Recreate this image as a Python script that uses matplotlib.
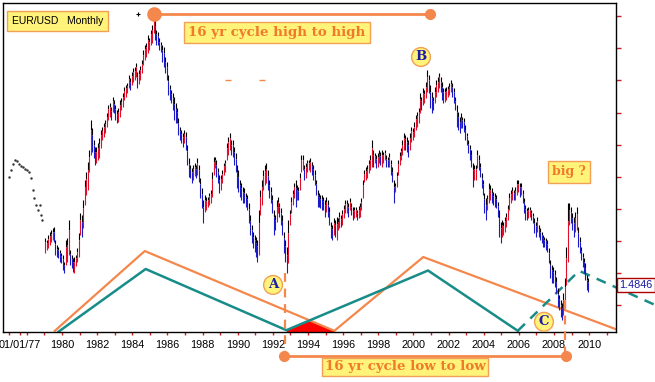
import numpy as np
import matplotlib
matplotlib.use("Agg")
import matplotlib.pyplot as plt

# ---------------- data ----------------
start_year = 1979  # first monthly bar: Jan 1979

bar_low = [
    1.328, 1.335, 1.318, 1.308, 1.302, 1.295, 1.292, 1.335, 1.352, 1.358, 1.368, 1.378,  # 1979
    1.385, 1.408, 1.335, 1.328, 1.268, 1.368, 1.385, 1.395, 1.392, 1.385, 1.362, 1.312,  # 1980
    1.245, 1.252, 1.202, 1.135, 1.108, 1.075, 1.035, 0.935, 0.962, 1.002, 1.025, 1.025,  # 1981
    1.012, 0.995, 0.968, 0.958, 0.945, 0.935, 0.912, 0.885, 0.878, 0.892, 0.858, 0.868,  # 1982
    0.885, 0.902, 0.895, 0.868, 0.862, 0.845, 0.825, 0.818, 0.812, 0.785, 0.795, 0.775,  # 1983
    0.762, 0.758, 0.745, 0.775, 0.768, 0.755, 0.735, 0.702, 0.685, 0.678, 0.652, 0.662,  # 1984
    0.635, 0.618, 0.582, 0.602, 0.635, 0.642, 0.662, 0.675, 0.685, 0.692, 0.725, 0.742,  # 1985
    0.785, 0.818, 0.835, 0.845, 0.858, 0.878, 0.895, 0.928, 0.958, 0.968, 0.978, 0.968,  # 1986
    0.975, 1.018, 1.062, 1.085, 1.095, 1.085, 1.078, 1.085, 1.062, 1.085, 1.128, 1.162,  # 1987
    1.202, 1.185, 1.192, 1.192, 1.178, 1.168, 1.108, 1.058, 1.058, 1.068, 1.095, 1.118,  # 1988
    1.118, 1.102, 1.078, 1.068, 1.012, 0.992, 0.978, 1.002, 1.002, 1.025, 1.045, 1.085,  # 1989
    1.102, 1.135, 1.145, 1.158, 1.162, 1.178, 1.185, 1.212, 1.252, 1.285, 1.308, 1.318,  # 1990
    1.325, 1.335, 1.235, 1.168, 1.135, 1.102, 1.085, 1.078, 1.102, 1.135, 1.158, 1.185,  # 1991
    1.235, 1.252, 1.202, 1.192, 1.212, 1.228, 1.252, 1.308, 1.335, 1.358, 1.268, 1.235,  # 1992
    1.192, 1.168, 1.145, 1.135, 1.152, 1.158, 1.112, 1.052, 1.052, 1.085, 1.078, 1.068,  # 1993
    1.068, 1.062, 1.075, 1.085, 1.102, 1.135, 1.168, 1.178, 1.185, 1.185, 1.192, 1.202,  # 1994
    1.192, 1.202, 1.225, 1.275, 1.285, 1.262, 1.268, 1.258, 1.262, 1.242, 1.252, 1.235,  # 1995
    1.218, 1.202, 1.202, 1.212, 1.195, 1.212, 1.225, 1.225, 1.225, 1.235, 1.222, 1.212,  # 1996
    1.195, 1.135, 1.102, 1.092, 1.085, 1.068, 1.052, 1.002, 1.035, 1.045, 1.052, 1.045,  # 1997
    1.035, 1.042, 1.035, 1.042, 1.035, 1.052, 1.058, 1.045, 1.068, 1.092, 1.135, 1.145,  # 1998
    1.108, 1.068, 1.042, 1.028, 1.002, 0.978, 0.985, 0.992, 1.002, 0.978, 0.958, 0.962,  # 1999
    0.942, 0.918, 0.908, 0.895, 0.845, 0.858, 0.828, 0.835, 0.808, 0.768, 0.785, 0.818,  # 2000
    0.842, 0.858, 0.825, 0.802, 0.792, 0.778, 0.792, 0.808, 0.828, 0.828, 0.825, 0.822,  # 2001
    0.812, 0.802, 0.812, 0.828, 0.858, 0.885, 0.908, 0.925, 0.912, 0.925, 0.928, 0.952,  # 2002
    0.978, 1.002, 1.018, 1.035, 1.078, 1.085, 1.085, 1.035, 1.052, 1.078, 1.112, 1.135,  # 2003
    1.178, 1.195, 1.185, 1.145, 1.152, 1.162, 1.175, 1.178, 1.185, 1.208, 1.235, 1.275,  # 2004
    1.268, 1.275, 1.258, 1.245, 1.218, 1.178, 1.168, 1.158, 1.168, 1.158, 1.135, 1.135,  # 2005
    1.145, 1.145, 1.168, 1.195, 1.218, 1.228, 1.225, 1.225, 1.235, 1.245, 1.262, 1.275,  # 2006
    1.258, 1.285, 1.295, 1.308, 1.318, 1.325, 1.328, 1.335, 1.362, 1.402, 1.418, 1.425,  # 2007
    1.435, 1.458, 1.495, 1.518, 1.535, 1.545, 1.512, 1.462, 1.358, 1.212, 1.212, 1.225,  # 2008
    1.245, 1.258, 1.242, 1.225, 1.292, 1.325, 1.358, 1.378, 1.395, 1.412, 1.452, 1.462,  # 2009
]

bar_high = [
    1.378, 1.368, 1.362, 1.352, 1.342, 1.335, 1.342, 1.385, 1.392, 1.395, 1.408, 1.412,  # 1979
    1.435, 1.445, 1.418, 1.408, 1.385, 1.418, 1.428, 1.442, 1.445, 1.422, 1.408, 1.392,  # 1980
    1.318, 1.325, 1.295, 1.218, 1.185, 1.168, 1.108, 1.052, 1.042, 1.062, 1.085, 1.078,  # 1981
    1.068, 1.062, 1.028, 1.002, 0.992, 0.978, 0.958, 0.935, 0.925, 0.935, 0.908, 0.912,  # 1982
    0.935, 0.945, 0.942, 0.925, 0.902, 0.892, 0.868, 0.858, 0.845, 0.828, 0.835, 0.818,  # 1983
    0.808, 0.802, 0.792, 0.828, 0.815, 0.802, 0.778, 0.752, 0.735, 0.725, 0.712, 0.702,  # 1984
    0.685, 0.678, 0.645, 0.668, 0.685, 0.685, 0.702, 0.708, 0.742, 0.758, 0.778, 0.802,  # 1985
    0.852, 0.868, 0.878, 0.902, 0.935, 0.945, 0.945, 0.985, 1.002, 1.012, 1.025, 1.012,  # 1986
    1.035, 1.085, 1.125, 1.128, 1.145, 1.135, 1.122, 1.128, 1.118, 1.142, 1.195, 1.228,  # 1987
    1.278, 1.242, 1.235, 1.225, 1.218, 1.212, 1.192, 1.118, 1.095, 1.125, 1.145, 1.178,  # 1988
    1.168, 1.145, 1.118, 1.108, 1.068, 1.052, 1.035, 1.052, 1.058, 1.085, 1.108, 1.162,  # 1989
    1.175, 1.192, 1.202, 1.212, 1.212, 1.225, 1.235, 1.278, 1.318, 1.345, 1.362, 1.375,  # 1990
    1.392, 1.408, 1.385, 1.252, 1.218, 1.168, 1.152, 1.145, 1.168, 1.195, 1.212, 1.245,  # 1991
    1.318, 1.302, 1.275, 1.245, 1.258, 1.285, 1.318, 1.378, 1.408, 1.445, 1.412, 1.285,  # 1992
    1.245, 1.218, 1.195, 1.225, 1.202, 1.202, 1.168, 1.108, 1.102, 1.135, 1.128, 1.108,  # 1993
    1.102, 1.108, 1.118, 1.135, 1.152, 1.185, 1.225, 1.225, 1.228, 1.235, 1.235, 1.258,  # 1994
    1.242, 1.258, 1.285, 1.328, 1.335, 1.318, 1.325, 1.335, 1.302, 1.295, 1.292, 1.285,  # 1995
    1.262, 1.245, 1.245, 1.258, 1.235, 1.252, 1.268, 1.262, 1.258, 1.268, 1.262, 1.258,  # 1996
    1.235, 1.195, 1.142, 1.135, 1.128, 1.112, 1.102, 1.092, 1.092, 1.078, 1.095, 1.092,  # 1997
    1.078, 1.085, 1.092, 1.078, 1.068, 1.092, 1.092, 1.092, 1.118, 1.142, 1.212, 1.175,  # 1998
    1.158, 1.118, 1.085, 1.068, 1.052, 1.035, 1.035, 1.042, 1.058, 1.035, 1.008, 1.002,  # 1999
    0.992, 0.968, 0.958, 0.945, 0.912, 0.902, 0.885, 0.878, 0.862, 0.842, 0.845, 0.895,  # 2000
    0.912, 0.902, 0.878, 0.858, 0.842, 0.828, 0.842, 0.868, 0.878, 0.875, 0.868, 0.858,  # 2001
    0.852, 0.842, 0.858, 0.878, 0.902, 0.958, 0.968, 0.978, 0.962, 0.962, 0.975, 1.002,  # 2002
    1.018, 1.045, 1.068, 1.092, 1.158, 1.135, 1.135, 1.095, 1.102, 1.125, 1.162, 1.185,  # 2003
    1.245, 1.268, 1.235, 1.212, 1.202, 1.212, 1.218, 1.225, 1.228, 1.258, 1.325, 1.345,  # 2004
    1.325, 1.318, 1.308, 1.292, 1.268, 1.235, 1.212, 1.202, 1.202, 1.202, 1.185, 1.175,  # 2005
    1.192, 1.185, 1.212, 1.245, 1.268, 1.268, 1.262, 1.258, 1.268, 1.278, 1.312, 1.325,  # 2006
    1.308, 1.325, 1.335, 1.345, 1.358, 1.358, 1.368, 1.375, 1.412, 1.462, 1.478, 1.478,  # 2007
    1.492, 1.512, 1.558, 1.568, 1.592, 1.602, 1.585, 1.562, 1.485, 1.408, 1.285, 1.278,  # 2008
    1.302, 1.325, 1.308, 1.302, 1.358, 1.378, 1.402, 1.425, 1.445, 1.468, 1.502, 1.508,  # 2009
]

# sparse early quotes (1977-1978), drawn as dots
pre_years = [1976.98, 1977.10, 1977.21, 1977.33, 1977.44, 1977.55, 1977.67, 1977.78,
             1977.89, 1978.01, 1978.12, 1978.24, 1978.35, 1978.41, 1978.52, 1978.63,
             1978.75, 1978.80, 1978.86]
pre_vals = [1.125, 1.102, 1.082, 1.068, 1.072, 1.082, 1.088, 1.092,
            1.098, 1.102, 1.108, 1.128, 1.168, 1.195, 1.218, 1.235,
            1.218, 1.252, 1.268]

# cycle lines
orange_years = [1979.59, 1984.71, 1995.50, 2000.56, 2011.63]
orange_vals = [1.638, 1.372, 1.638, 1.392, 1.635]
teal_years = [1979.80, 1984.76, 1992.77, 2000.83, 2005.94]
teal_vals = [1.641, 1.432, 1.636, 1.437, 1.638]
teal_dash_years = [2005.94, 2009.43, 2013.76]
teal_dash_vals = [1.638, 1.438, 1.552]

high_cycle_years = [1985.24, 2000.94]
high_cycle_level = 0.582
low_cycle_years = [1992.63, 2008.68]
low_cycle_level = 1.722
low_A_year, low_A_val = 1992.69, 1.445
low_C_year, low_C_val = 2008.63, 1.535

last_price = 1.4846
right_ticks = [0.588, 0.695, 0.802, 0.912, 1.018, 1.125, 1.232, 1.338, 1.445, 1.552]
year_labels = ["01/01/77"] + [str(y) for y in range(1980, 2011, 2)]
year_label_pos = [1977.62] + list(range(1980, 2011, 2))

# ---------------- style ----------------
ORANGE = "#F4874B"
TEAL = "#178C88"
YELLOW = "#FFF37A"
BOXEDGE = "#F2A055"
LETTER = "#1C1CA8"

fig = plt.figure(figsize=(6.55, 3.82), dpi=100)
ax = fig.add_axes([3 / 655, 50 / 382, 613 / 655, 329 / 382])
ax.set_xlim(1976.64, 2011.53)
ax.set_ylim(1.642, 0.545)

for s in ax.spines.values():
    s.set_color("black")
    s.set_linewidth(1.0)

# x ticks
ax.set_xticks(year_label_pos)
ax.set_xticklabels(year_labels, fontsize=7.8, family="Liberation Sans")
ax.set_xticks(list(range(1977, 2012)), minor=True)
ax.tick_params(axis="x", which="both", colors="#D02020", length=2.5, width=1,
               direction="out", pad=3, labelcolor="black")
# y ticks on right, no labels
ax.yaxis.tick_right()
ax.set_yticks(right_ticks)
ax.set_yticklabels([])
ax.tick_params(axis="y", colors="#D02020", length=3.5, width=1, direction="out")

# cycle lines
ax.plot(orange_years, orange_vals, color=ORANGE, lw=1.6, zorder=2)
ax.plot(teal_years, teal_vals, color=TEAL, lw=1.8, zorder=2)
ax.plot(teal_dash_years, teal_dash_vals, color=TEAL, lw=1.8, ls=(0, (4, 3)),
        zorder=2, clip_on=False)

# red overlap triangle
xs = np.linspace(teal_years[2], orange_years[2], 80)
t = np.interp(xs, teal_years, teal_vals)
o = np.interp(xs, orange_years, orange_vals)
ax.fill_between(xs, np.maximum(t, o), 1.642, color="#FF0000", lw=0, zorder=1.9)

# price bars: black wick tip on top, coloured body below
n = len(bar_low)
yrs = start_year + (np.arange(n) + 0.5) / 12.0
lo = np.array(bar_low)
hi = np.array(bar_high)
mid = (lo + hi) / 2
prev = np.r_[mid[0], mid[:-1]]
cols = np.where(mid <= prev, "#E0102A", "#1A1AC8")
rng = hi - lo
ax.vlines(yrs, lo, lo + 0.3 * rng, colors="black", lw=0.8, zorder=3)
ax.vlines(yrs, lo + 0.3 * rng, hi, colors=cols, lw=0.8, zorder=4)
ax.plot(pre_years, pre_vals, ls="none", marker="s", ms=0.7, color="#333333", zorder=3)

# high-to-high marker
ax.plot(high_cycle_years, [high_cycle_level] * 2, color=ORANGE, lw=2, zorder=5, clip_on=False)
ax.plot(high_cycle_years[0], high_cycle_level, "o", color=ORANGE, ms=9.5, zorder=6, clip_on=False)
ax.plot(high_cycle_years[1], high_cycle_level, "o", color=ORANGE, ms=7, zorder=6, clip_on=False)

# low-to-low marker
ax.plot([low_A_year, low_A_year], [low_A_val, low_cycle_level], color=ORANGE, lw=1.6,
        ls=(0, (4, 3)), zorder=5, clip_on=False)
ax.plot([low_C_year, low_C_year], [low_C_val, low_cycle_level], color=ORANGE, lw=1.6,
        ls=(0, (4, 3)), zorder=5, clip_on=False)
ax.plot(low_cycle_years, [low_cycle_level] * 2, color=ORANGE, lw=2, zorder=5, clip_on=False)
ax.plot(low_cycle_years, [low_cycle_level] * 2, "o", color=ORANGE, ms=7, zorder=6, clip_on=False)

# small stray marks
ax.plot([1984.33], [0.582], marker="+", ms=3, color="black", mew=0.8, zorder=5)
ax.plot([1989.45, 1991.38], [0.802, 0.802], ls="none", marker="_", ms=5, color=ORANGE, mew=1, zorder=5)

serif_bold = dict(family="DejaVu Serif", weight="bold")

ax.text(1977.15, 0.605, "EUR/USD   Monthly", fontsize=7.5, family="Liberation Sans",
        ha="left", va="center", zorder=7,
        bbox=dict(boxstyle="square,pad=0.45", fc=YELLOW, ec=BOXEDGE, lw=1))
ax.text(1992.24, 0.645, "16 yr cycle high to high", fontsize=9.6, color="#F07A2A",
        ha="center", va="center", zorder=7, **serif_bold,
        bbox=dict(boxstyle="square,pad=0.3", fc=YELLOW, ec=BOXEDGE, lw=1))
ax.text(1999.52, 1.758, "16 yr cycle low to low", fontsize=9.6, color="#F07A2A",
        ha="center", va="center", zorder=7, **serif_bold,
        bbox=dict(boxstyle="square,pad=0.2", fc=YELLOW, ec=BOXEDGE, lw=1))
ax.text(2008.86, 1.108, "big ?", fontsize=9, color="#F07A2A",
        ha="center", va="center", zorder=7, **serif_bold,
        bbox=dict(boxstyle="square,pad=0.35", fc=YELLOW, ec=BOXEDGE, lw=1))

for lab, xx, yy in [("A", 1992.01, 1.485), ("B", 2000.43, 0.725), ("C", 2007.43, 1.608)]:
    ax.text(xx, yy, lab, fontsize=9.5, color=LETTER, ha="center", va="center", zorder=8,
            **serif_bold, bbox=dict(boxstyle="circle,pad=0.22", fc=YELLOW, ec=BOXEDGE, lw=1))

ax.text(2011.72, last_price, "1.4846", fontsize=7.8, family="Liberation Sans",
        color="#1818A0", ha="left", va="center", zorder=8, clip_on=False,
        bbox=dict(boxstyle="square,pad=0.2", fc="white", ec="#B00000", lw=1))

fig.savefig("out.png", dpi=100, facecolor="white")
